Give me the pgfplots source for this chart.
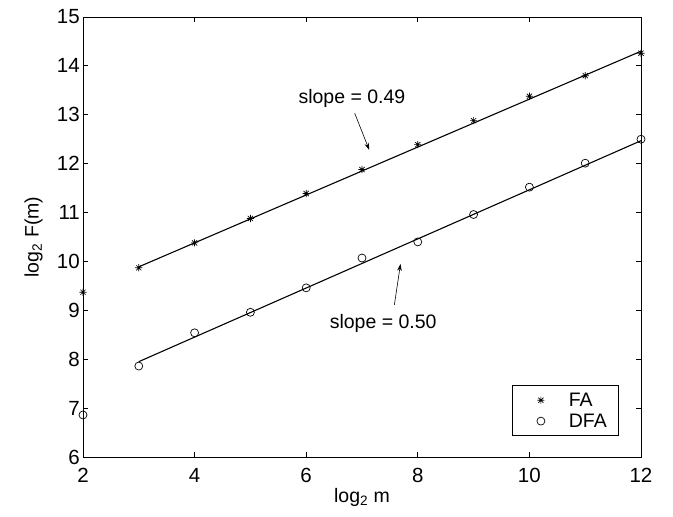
\documentclass[border=0pt]{standalone}
\usepackage{pgfplots}
\pgfplotsset{compat=1.18}
\usepackage{fontspec}
\setmainfont{Liberation Sans}
\usetikzlibrary{arrows.meta}

% MATLAB-style 8-armed star
\pgfdeclareplotmark{mstar}{%
  \pgfpathmoveto{\pgfqpoint{-\pgfplotmarksize}{0pt}}%
  \pgfpathlineto{\pgfqpoint{\pgfplotmarksize}{0pt}}%
  \pgfpathmoveto{\pgfqpoint{0pt}{-\pgfplotmarksize}}%
  \pgfpathlineto{\pgfqpoint{0pt}{\pgfplotmarksize}}%
  \pgfpathmoveto{\pgfqpoint{-0.707\pgfplotmarksize}{-0.707\pgfplotmarksize}}%
  \pgfpathlineto{\pgfqpoint{0.707\pgfplotmarksize}{0.707\pgfplotmarksize}}%
  \pgfpathmoveto{\pgfqpoint{-0.707\pgfplotmarksize}{0.707\pgfplotmarksize}}%
  \pgfpathlineto{\pgfqpoint{0.707\pgfplotmarksize}{-0.707\pgfplotmarksize}}%
  \pgfusepathqstroke}

\newcommand{\lblfont}{\fontsize{19.5}{23}\selectfont}
\newcommand{\tckfont}{\fontsize{20.5}{24}\selectfont}

\pgfplotsset{
  markleg/.style={legend image code/.code={%
    \path[draw=none,fill=none] (0pt,-5pt) rectangle (46pt,5pt);
    \draw[##1] plot coordinates {(21pt,0pt)};}},
}

\begin{document}
\begin{tikzpicture}[x=1pt,y=1pt]
\useasboundingbox (0,0) rectangle (673,517);
\begin{axis}[
  at={(83pt,60pt)}, anchor=south west,
  scale only axis, width=558pt, height=440pt,
  xmin=2, xmax=12, ymin=6, ymax=15,
  xtick={2,4,...,12}, ytick={6,7,...,15},
  tick align=inside, major tick length=5pt,
  axis line style={line width=0.9pt},
  every tick/.style={black, line width=0.8pt},
  /pgf/number format/assume math mode=true,
  tick label style={font=\tckfont},
  xticklabel style={anchor=north, inner sep=0pt, yshift=-11pt},
  yticklabel style={anchor=east, inner sep=0pt, xshift=-3pt},
  xlabel={log\textsubscript{2} m},
  ylabel={log\textsubscript{2} F(m)},
  every axis x label/.style={at={(axis description cs:0.5,-0.0705)}, anchor=north, inner sep=0pt, font=\lblfont},
  every axis y label/.style={at={(axis description cs:-0.0717,0.5)}, rotate=90, anchor=south, inner sep=0pt, font=\lblfont},
  clip=false,
  legend style={at={(axis description cs:0.959,0.048)}, anchor=south east,
    draw=black, line width=0.6pt, fill=white, font=\lblfont,
    inner xsep=8pt, inner ysep=4pt, row sep=0pt, nodes={inner sep=3pt}},
  legend cell align=left,
]
\addplot[only marks, mark=mstar, mark size=3.6pt, mark options={line width=0.7pt}, black, markleg] coordinates {
(2,9.37) (3,9.87) (4,10.38) (5,10.88) (6,11.39) (7,11.88)
(8,12.39) (9,12.88) (10,13.38) (11,13.80) (12,14.26)
};
\addlegendentry{FA}
\addplot[only marks, mark=o, mark size=4pt, mark options={line width=0.7pt}, black, markleg] coordinates {
(2,6.86) (3,7.86) (4,8.54) (5,8.96) (6,9.46) (7,10.07)
(8,10.40) (9,10.96) (10,11.52) (11,12.01) (12,12.50)
};
\addlegendentry{DFA}
% fitted lines
\addplot[black, line width=1.1pt, forget plot] coordinates {(3,9.89) (12,14.30)};
\addplot[black, line width=1.1pt, forget plot] coordinates {(3,7.95) (12,12.47)};
% annotations
\node[font=\lblfont] at (axis cs:6.82,13.34) {slope = 0.49};
\draw[-{Stealth[length=7pt,width=4.5pt]}, line width=0.6pt] (axis cs:6.87,13.03) -- (axis cs:7.13,12.28);
\node[font=\lblfont] at (axis cs:7.38,8.74) {slope = 0.50};
\draw[-{Stealth[length=7pt,width=4.5pt]}, line width=0.6pt] (axis cs:7.58,9.11) -- (axis cs:7.69,9.95);
\end{axis}
\end{tikzpicture}
\end{document}
